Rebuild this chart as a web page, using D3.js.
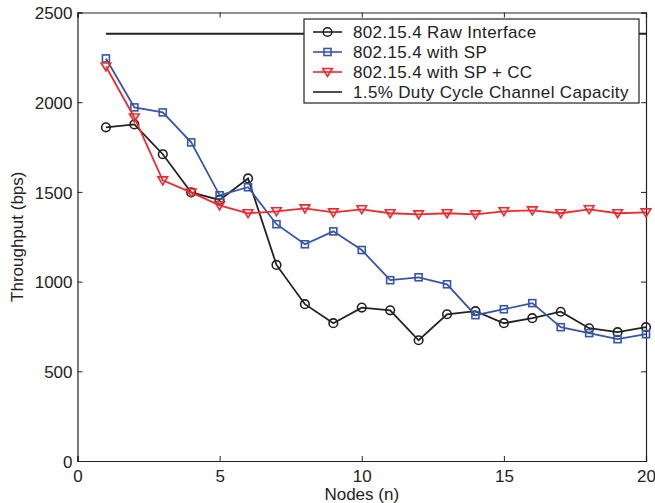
<!DOCTYPE html>
<html>
<head>
<meta charset="utf-8">
<script src="https://cdn.jsdelivr.net/npm/d3@7"></script>
<style>
  body { margin: 0; background: #fff; }
  svg text { font-family: "Liberation Sans", Arial, sans-serif; fill: #222; }
</style>
</head>
<body>
<div id="chart"></div>
<script>
// data
const nodes = [1, 2, 3, 4, 5, 6, 7, 8, 9, 10, 11, 12, 13, 14, 15, 16, 17, 18, 19, 20];
const rawInterface = [1860, 1876, 1710, 1497, 1455, 1575, 1093, 874, 768, 855, 840, 673, 818, 835, 768, 796, 832, 740, 718, 746];
const withSP = [2244, 1971, 1943, 1776, 1481, 1526, 1320, 1208, 1280, 1176, 1008, 1024, 985, 813, 846, 880, 746, 713, 679, 707];
const withSPCC = [2199, 1915, 1564, 1497, 1425, 1381, 1392, 1408, 1386, 1403, 1381, 1375, 1381, 1375, 1392, 1397, 1381, 1403, 1381, 1386];
const capacity = 2381;
const capacityRange = [1, 20];
const xTicks = [0, 5, 10, 15, 20];
const yTicks = [0, 500, 1000, 1500, 2000, 2500];
const legendLabels = ["802.15.4 Raw Interface", "802.15.4 with SP", "802.15.4 with SP + CC", "1.5% Duty Cycle Channel Capacity"];

const width = 655, height = 503;
const margin = {top: 12.5, right: 9, bottom: 42, left: 77.5};
const fontSize = "17px";

const svg = d3.select("#chart").append("svg")
    .attr("width", width).attr("height", height);

const x = d3.scaleLinear().domain([0, 20]).range([margin.left, width - margin.right]);
const y = d3.scaleLinear().domain([0, 2500]).range([height - margin.bottom, margin.top]);

const axisColor = "#222";
const tickLen = 5;
const fmt = d3.format("d");

// axes with inward ticks (matlab style box)
const gx = svg.append("g").attr("transform", `translate(0,${y(0)})`)
    .call(d3.axisBottom(x).tickValues(xTicks).tickSize(-tickLen).tickPadding(9).tickFormat(fmt));
const gxTop = svg.append("g").attr("transform", `translate(0,${y(2500)})`)
    .call(d3.axisTop(x).tickValues(xTicks).tickSize(-tickLen).tickFormat(""));
const gy = svg.append("g").attr("transform", `translate(${x(0)},0)`)
    .call(d3.axisLeft(y).tickValues(yTicks).tickSize(-tickLen).tickPadding(5).tickFormat(fmt));
const gyRight = svg.append("g").attr("transform", `translate(${x(20)},0)`)
    .call(d3.axisRight(y).tickValues(yTicks).tickSize(-tickLen).tickFormat(""));

[gx, gxTop, gy, gyRight].forEach(g => {
    g.select(".domain").attr("stroke", axisColor).attr("stroke-width", 1.2);
    g.selectAll(".tick line").attr("stroke", axisColor);
    g.selectAll(".tick text").attr("font-size", fontSize).attr("fill", "#222")
        .attr("font-family", "Liberation Sans, Arial, sans-serif");
});
gy.selectAll(".tick text").attr("dy", "0.36em");

svg.append("text").attr("x", x(10)).attr("y", 500)
    .attr("text-anchor", "middle").attr("font-size", fontSize).text("Nodes (n)");
svg.append("text").attr("transform", `translate(23,${y(1250)}) rotate(-90)`)
    .attr("text-anchor", "middle").attr("font-size", fontSize).text("Throughput (bps)");

const black = "#222222", blue = "#3656a8", red = "#ee2a2e";

// capacity line
svg.append("line")
    .attr("x1", x(capacityRange[0])).attr("x2", x(capacityRange[1]))
    .attr("y1", y(capacity)).attr("y2", y(capacity))
    .attr("stroke", black).attr("stroke-width", 2);

const line = d3.line().x(d => x(d[0])).y(d => y(d[1]));

function drawSeries(vals, color, marker) {
    const pts = nodes.map((n, i) => [n, vals[i]]);
    svg.append("path").datum(pts).attr("fill", "none").attr("stroke", color)
        .attr("stroke-width", 1.8).attr("d", line);
    const g = svg.append("g");
    pts.forEach(p => drawMarker(g, x(p[0]), y(p[1]), color, marker));
}

function drawMarker(g, cx, cy, color, marker) {
    if (marker === "circle") {
        g.append("circle").attr("cx", cx).attr("cy", cy).attr("r", 4.3)
            .attr("fill", "none").attr("stroke", color).attr("stroke-width", 1.6);
    } else if (marker === "square") {
        g.append("rect").attr("x", cx - 3.5).attr("y", cy - 3.5).attr("width", 7).attr("height", 7)
            .attr("fill", "none").attr("stroke", color).attr("stroke-width", 1.6);
    } else if (marker === "triangle") {
        g.append("path").attr("d", `M${cx - 4.8},${cy - 3.5}L${cx + 4.8},${cy - 3.5}L${cx},${cy + 4.5}Z`)
            .attr("fill", "none").attr("stroke", color).attr("stroke-width", 1.6);
    }
}

drawSeries(rawInterface, black, "circle");
drawSeries(withSP, blue, "square");
drawSeries(withSPCC, red, "triangle");

// legend
const legend = svg.append("g");
legend.append("rect").attr("x", 304).attr("y", 19).attr("width", 335).attr("height", 84)
    .attr("fill", "#fff").attr("stroke", axisColor).attr("stroke-width", 1.2);
const legendItems = [
    {color: black, marker: "circle"},
    {color: blue, marker: "square"},
    {color: red, marker: "triangle"},
    {color: black, marker: null}
];
legendItems.forEach((it, i) => {
    const ly = 32 + i * 20;
    legend.append("line").attr("x1", 313).attr("x2", 342).attr("y1", ly).attr("y2", ly)
        .attr("stroke", it.color).attr("stroke-width", 1.6);
    if (it.marker) drawMarker(legend, 327.5, ly, it.color, it.marker);
    legend.append("text").attr("x", 353).attr("y", ly).attr("dy", "0.36em")
        .attr("font-size", fontSize).attr("letter-spacing", "0.35px").text(legendLabels[i]);
});
</script>
</body>
</html>
